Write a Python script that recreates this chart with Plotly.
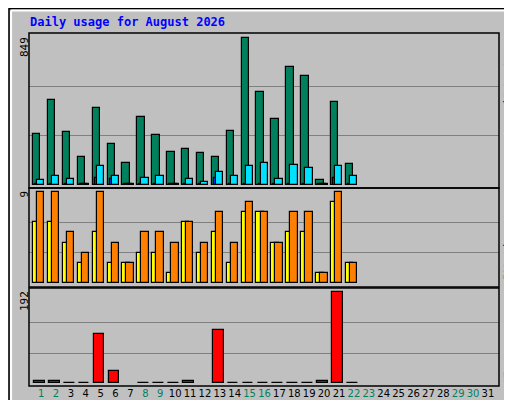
import plotly.graph_objects as go

days = list(range(1, 32))
day_labels = [str(d) for d in days]
weekend_days = [1, 2, 8, 9, 15, 16, 22, 23, 29, 30]

hits = [289, 486, 301, 157, 440, 232, 122, 388, 284, 186, 203, 180, 157, 307, 849,
        537, 376, 676, 624, 24, 479, 117]
files = [24, 47, 30, 2, 105, 47, 2, 36, 47, 2, 30, 12, 70, 47, 105,
         122, 30, 111, 93, 2, 105, 47]
pages = [2, 2, 2, 2, 35, 30, 2, 2, 2, 2, 2, 2, 35, 2, 2,
         2, 2, 2, 2, 2, 35, 2]
visits = [6, 6, 4, 2, 5, 2, 2, 3, 3, 1, 6, 3, 5, 2, 7, 7, 4, 5, 5, 1, 8, 2]
sites = [9, 9, 5, 3, 9, 4, 2, 5, 5, 4, 6, 4, 7, 4, 8, 7, 4, 7, 7, 1, 9, 2]
kbytes = [4, 4, 0.6, 0.6, 104, 26, None, 0.6, 0.6, 0.6, 4, None, 112, 0.6, 0.6,
          0.6, 0.6, 0.6, 0.6, 4, 192, 0.6]
max_hits, max_visits, max_kbytes = 849, 9, 192

fig = go.Figure()
line = dict(color="black", width=1.2)
n = len(hits)
x = days[:n]

def bar(y, color, offset, width, xa, ya):
    fig.add_trace(go.Bar(x=x, y=y, marker=dict(color=color, line=line), offset=offset,
                         width=width, xaxis=xa, yaxis=ya, showlegend=False, hoverinfo="skip"))

bar(hits, "#00805C", -0.54, 0.5, "x", "y")
bar(pages, "#0040FF", -0.4, 0.5, "x", "y")
bar(files, "#00E0FF", -0.27, 0.5, "x", "y")
bar(visits, "#FFFF00", -0.54, 0.5, "x2", "y2")
bar(sites, "#FF8000", -0.27, 0.5, "x2", "y2")
bar(kbytes, "#FF0000", -0.47, 0.72, "x3", "y3")

xdom = [21 / 512, 491 / 512]
xr = [0.19, 31.74]
common_x = dict(domain=xdom, range=xr, showgrid=False, zeroline=False, fixedrange=True)
fig.update_layout(
    width=512, height=400, margin=dict(l=0, r=0, t=0, b=0),
    paper_bgcolor="#C0C0C0", plot_bgcolor="#C0C0C0", barmode="overlay",
    xaxis=dict(**common_x, anchor="y", showticklabels=False),
    xaxis2=dict(**common_x, anchor="y2", showticklabels=False),
    xaxis3=dict(**common_x, anchor="y3", tickmode="array", tickvals=days, tickangle=0,
                ticktext=[f"<span style='color:{'#00805C' if d in weekend_days else 'black'}'>{d}</span>" for d in days],
                tickfont=dict(family="DejaVu Sans", size=10), ticks="", ticklen=0),
    yaxis=dict(domain=[0.55, 0.9375], range=[-20, 875], tickvals=[283, 566], showticklabels=False,
               gridcolor="#808080", zeroline=False),
    yaxis2=dict(domain=[0.3025, 0.55], range=[-0.36, 9.35], tickvals=[3, 6], showticklabels=False,
                gridcolor="#808080", zeroline=False),
    yaxis3=dict(domain=[0.055, 0.3], range=[-5.5, 201], tickvals=[64, 128], showticklabels=False,
                gridcolor="#808080", zeroline=False),
    bargap=0,
)

shapes = [
    dict(type="rect", xref="paper", yref="paper", x0=0.002, x1=0.998, y0=0.002, y1=0.998,
         line=dict(color="black", width=1.5)),
    dict(type="line", xref="paper", yref="paper", x0=0.006, x1=0.006, y0=0.01, y1=0.994,
         line=dict(color="white", width=2)),
    dict(type="line", xref="paper", yref="paper", x0=0.006, x1=0.99, y0=0.994, y1=0.994,
         line=dict(color="white", width=2)),
    dict(type="line", xref="paper", yref="paper", x0=0.992, x1=0.992, y0=0.006, y1=0.99,
         line=dict(color="#808080", width=4)),
    dict(type="line", xref="paper", yref="paper", x0=0.006, x1=0.99, y0=0.009, y1=0.009,
         line=dict(color="#808080", width=4)),
]
for y0, y1 in [(0.55, 0.9375), (0.3025, 0.55), (0.055, 0.3)]:
    shapes.append(dict(type="rect", xref="paper", yref="paper", x0=xdom[0], x1=xdom[1], y0=y0, y1=y1,
                       line=dict(color="black", width=1.5)))
fig.update_layout(shapes=shapes)

mono = "DejaVu Sans Mono"
ann = [
    dict(text="<b>Daily usage for August 2026</b>", x=20 / 512, y=1 - 14 / 400, xanchor="left",
         yanchor="middle", font=dict(family=mono, size=12, color="#0000FF")),
    dict(text=str(max_hits), x=16 / 512, y=1 - 27 / 400, textangle=-90, yanchor="top",
         font=dict(family=mono, size=11, color="black")),
    dict(text=str(max_visits), x=16 / 512, y=1 - 181 / 400, textangle=-90, yanchor="top",
         font=dict(family=mono, size=11, color="black")),
    dict(text=str(max_kbytes), x=16 / 512, y=1 - 281 / 400, textangle=-90, yanchor="top",
         font=dict(family=mono, size=11, color="black")),
]

CH = 5.6  # px per character, vertical
def vstack(pieces, top):
    y = top
    for txt, col in pieces:
        h = len(txt) * CH
        ann.append(dict(text=txt, x=499 / 512, y=1 - y / 400, textangle=-90, yanchor="top",
                        font=dict(family=mono, size=9.5, color=col)))
        y += h + 2

vstack([("Hits", "#00805C"), ("/", "black"), ("Files", "#0040FF"), ("/", "black"), ("Pages", "#00E0FF")], 28)
vstack([("Visits", "#FFFF00"), ("/", "black"), ("Sites", "#FF8000")], 198)
vstack([("KBytes", "#FF0000")], 338)

for a in ann:
    a.update(xref="paper", yref="paper", showarrow=False)
    a.setdefault("xanchor", "center")
fig.update_layout(annotations=ann)

fig.write_html("out.html")
